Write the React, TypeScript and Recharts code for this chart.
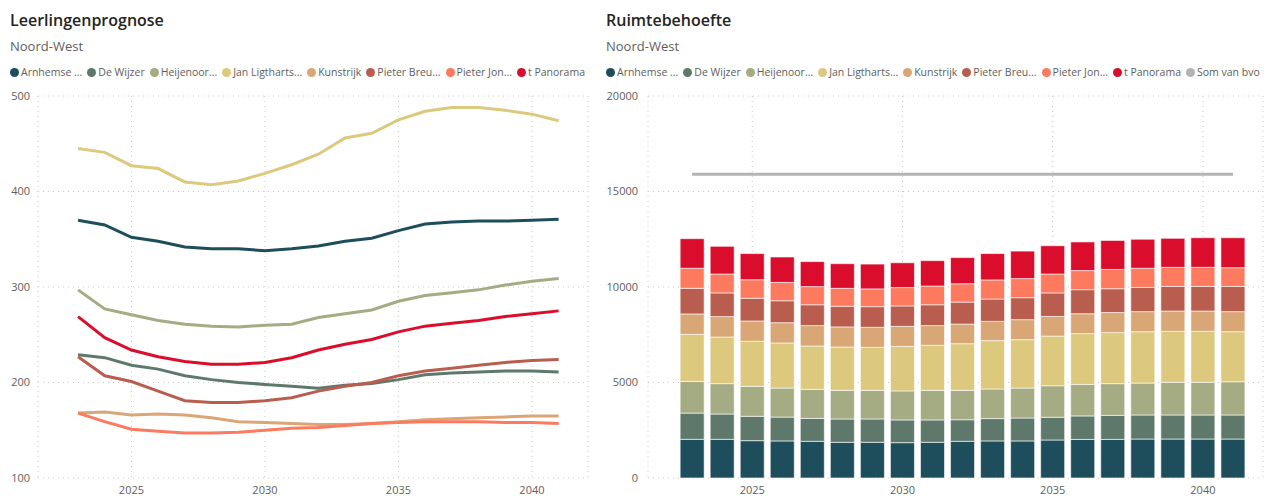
import React from "react";
import { LineChart, Line, XAxis, YAxis, CartesianGrid, ComposedChart, Bar } from "recharts";

const years = [2023, 2024, 2025, 2026, 2027, 2028, 2029, 2030, 2031, 2032, 2033, 2034, 2035, 2036, 2037, 2038, 2039, 2040, 2041];
const yearTicks = [2025, 2030, 2035, 2040];

const schoolNames = ["Arnhemse ...", "De Wijzer", "Heijenoor...", "Jan Ligtharts...", "Kunstrijk", "Pieter Breu...", "Pieter Jon...", "t Panorama"];
const schoolKeys = ["arnhemse", "dewijzer", "heijenoord", "janligtharts", "kunstrijk", "pieterbreu", "pieterjon", "panorama"];
const schoolColors = ["#1E4D5C", "#5E796C", "#A5AB83", "#DCC97E", "#D9A676", "#B95E4F", "#FE7A5E", "#DB0D2C"];

// leerlingen per school
const pupilsArnhemse = [370, 365, 352, 348, 342, 340, 340, 338, 340, 343, 348, 351, 359, 366, 368, 369, 369, 370, 371];
const pupilsDeWijzer = [229, 226, 218, 214, 207, 203, 200, 198, 196, 194, 197, 199, 203, 208, 210, 211, 212, 212, 211];
const pupilsHeijenoord = [297, 277, 271, 265, 261, 259, 258, 260, 261, 268, 272, 276, 285, 291, 294, 297, 302, 306, 309];
const pupilsJanLigtharts = [445, 441, 427, 424, 410, 407, 411, 419, 428, 439, 456, 461, 475, 484, 488, 488, 485, 481, 474];
const pupilsKunstrijk = [168, 169, 166, 167, 166, 163, 159, 158, 157, 156, 156, 157, 159, 161, 162, 163, 164, 165, 165];
const pupilsPieterBreu = [227, 207, 201, 191, 181, 179, 179, 181, 184, 191, 196, 200, 207, 212, 215, 218, 221, 223, 224];
const pupilsPieterJon = [168, 159, 151, 149, 147, 147, 148, 150, 152, 153, 155, 157, 158, 159, 159, 159, 158, 158, 157];
const pupilsPanorama = [269, 247, 234, 227, 222, 219, 219, 221, 226, 234, 240, 245, 253, 259, 262, 265, 269, 272, 275];

// ruimtebehoefte per school (m2)
const spaceArnhemse = [2025, 2025, 1955, 1940, 1920, 1870, 1870, 1850, 1870, 1920, 1940, 1940, 1990, 2020, 2020, 2040, 2040, 2040, 2040];
const spaceDeWijzer = [1375, 1325, 1275, 1250, 1200, 1220, 1220, 1190, 1170, 1130, 1170, 1200, 1190, 1230, 1260, 1260, 1260, 1260, 1260];
const spaceHeijenoord = [1660, 1590, 1570, 1520, 1520, 1500, 1500, 1520, 1550, 1540, 1550, 1570, 1650, 1650, 1660, 1670, 1710, 1710, 1740];
const spaceJanLigtharts = [2460, 2440, 2360, 2360, 2270, 2270, 2250, 2330, 2360, 2440, 2530, 2530, 2600, 2660, 2670, 2690, 2670, 2670, 2620];
const spaceKunstrijk = [1070, 1070, 1060, 1060, 1070, 1050, 1050, 1050, 1030, 1030, 1010, 1050, 1030, 1040, 1050, 1050, 1060, 1060, 1050];
const spacePieterBreu = [1340, 1240, 1190, 1150, 1090, 1080, 1080, 1070, 1090, 1150, 1170, 1150, 1230, 1260, 1250, 1270, 1290, 1290, 1320];
const spacePieterJon = [1050, 990, 970, 960, 950, 940, 930, 960, 980, 960, 1000, 1000, 990, 1000, 1010, 1000, 1000, 1000, 980];
const spacePanorama = [1550, 1450, 1370, 1330, 1310, 1290, 1300, 1300, 1330, 1370, 1380, 1440, 1480, 1500, 1520, 1520, 1520, 1550, 1570];
const somVanBvo = [15900, 15900, 15900, 15900, 15900, 15900, 15900, 15900, 15900, 15900, 15900, 15900, 15900, 15900, 15900, 15900, 15900, 15900, 15900];

const pupilSeries = [pupilsArnhemse, pupilsDeWijzer, pupilsHeijenoord, pupilsJanLigtharts, pupilsKunstrijk, pupilsPieterBreu, pupilsPieterJon, pupilsPanorama];
const spaceSeries = [spaceArnhemse, spaceDeWijzer, spaceHeijenoord, spaceJanLigtharts, spaceKunstrijk, spacePieterBreu, spacePieterJon, spacePanorama];

const pupilRows = years.map((year, i) => {
  const row: Record<string, number> = { year };
  schoolKeys.forEach((k, s) => (row[k] = pupilSeries[s][i]));
  return row;
});

const spaceRows = years.map((year, i) => {
  const row: Record<string, number> = { year, bvo: somVanBvo[i] };
  schoolKeys.forEach((k, s) => (row[k] = spaceSeries[s][i]));
  return row;
});

const FONT = "'Open Sans', 'Noto Sans', sans-serif";
const tick = { fontSize: 11, fill: "#605E5C", fontFamily: FONT };

function Header({ title, left, items }: { title: string; left: number; items: { name: string; color: string }[] }) {
  return (
    <div style={{ position: "absolute", left, top: 0, fontFamily: FONT }}>
      <div style={{ position: "absolute", top: 9, left: 0, fontSize: 16, fontWeight: 600, color: "#252423", whiteSpace: "nowrap" }}>
        {title}
      </div>
      <div style={{ position: "absolute", top: 37, left: 0, fontSize: 13, color: "#605E5C", whiteSpace: "nowrap" }}>Noord-West</div>
      <div style={{ position: "absolute", top: 65, left: 0, display: "flex", gap: 5, whiteSpace: "nowrap" }}>
        {items.map((it) => (
          <div key={it.name} style={{ display: "flex", alignItems: "center", fontSize: 10.5, color: "#605E5C" }}>
            <span style={{ width: 9, height: 9, borderRadius: "50%", background: it.color, display: "inline-block", marginRight: 2 }} />
            {it.name}
          </div>
        ))}
      </div>
    </div>
  );
}

export default function App() {
  const lineLegend = schoolNames.map((name, i) => ({ name, color: schoolColors[i] }));
  const barLegend = [...lineLegend, { name: "Som van bvo", color: "#B3B3B3" }];

  return (
    <div style={{ position: "absolute", left: 0, top: 0, width: 1264, height: 497, background: "#fff", overflow: "hidden" }}>
      <Header title="Leerlingenprognose" left={10} items={lineLegend} />
      <Header title="Ruimtebehoefte" left={606} items={barLegend} />

      <div style={{ position: "absolute", left: 0, top: 0 }}>
        <LineChart width={600} height={497} data={pupilRows} margin={{ top: 96, right: 12, bottom: 0, left: 0 }}>
          <CartesianGrid stroke="#C8C8C8" strokeDasharray="1 4" />
          <XAxis
            dataKey="year"
            type="number"
            domain={[2021.5, 2042.1]}
            ticks={yearTicks}
            axisLine={false}
            tickLine={false}
            tickSize={0}
            tickMargin={8}
            height={19}
            tick={tick}
          />
          <YAxis
            domain={[100, 500]}
            ticks={[100, 200, 300, 400, 500]}
            axisLine={false}
            tickLine={false}
            tickSize={0}
            tickMargin={8}
            width={38}
            tick={tick}
          />
          {schoolKeys.map((k, i) => (
            <Line
              key={k}
              type="linear"
              dataKey={k}
              stroke={schoolColors[i]}
              strokeWidth={3}
              dot={false}
              isAnimationActive={false}
            />
          ))}
        </LineChart>
      </div>

      <div style={{ position: "absolute", left: 600, top: 0 }}>
        <ComposedChart width={664} height={497} data={spaceRows} margin={{ top: 96, right: 1, bottom: 0, left: 0 }}>
          <CartesianGrid stroke="#C8C8C8" strokeDasharray="1 4" />
          <XAxis
            dataKey="year"
            type="number"
            domain={[2021.53, 2042]}
            ticks={yearTicks}
            axisLine={false}
            tickLine={false}
            tickSize={0}
            tickMargin={8}
            height={19}
            tick={tick}
          />
          <YAxis
            domain={[0, 20000]}
            ticks={[0, 5000, 10000, 15000, 20000]}
            axisLine={false}
            tickLine={false}
            tickSize={0}
            tickMargin={10}
            width={48}
            tick={tick}
          />
          {schoolKeys.map((k, i) => (
            <Bar
              key={k}
              dataKey={k}
              stackId="s"
              fill={schoolColors[i]}
              stroke="#ffffff"
              strokeWidth={0.6}
              barSize={24}
              isAnimationActive={false}
            />
          ))}
          <Line type="linear" dataKey="bvo" stroke="#B3B3B3" strokeWidth={3} dot={false} isAnimationActive={false} />
        </ComposedChart>
      </div>
    </div>
  );
}
